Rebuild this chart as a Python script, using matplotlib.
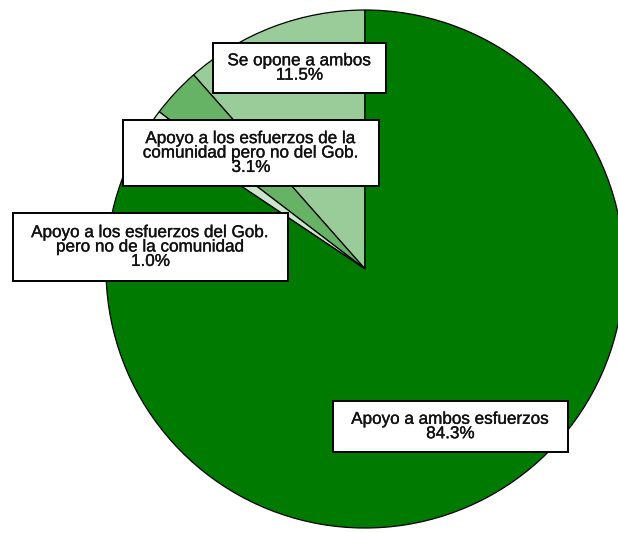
import matplotlib.pyplot as plt
import matplotlib.patheffects as pe
from matplotlib.patches import Rectangle

plt.rcParams['font.family'] = ['Liberation Sans', 'DejaVu Sans']

labels = ['Se opone a ambos',
          'Apoyo a los esfuerzos de la\ncomunidad pero no del Gob.',
          'Apoyo a los esfuerzos del Gob.\npero no de la comunidad',
          'Apoyo a ambos esfuerzos']
pct = [11.5, 3.1, 1.0, 84.3]
colors = ['#99cc99', '#66b366', '#cce6cc', '#007a00']

# label boxes in pixel coords: x0, y0 (top), x1, y1 (bottom)
boxes = [(213, 43, 386, 93),
         (123, 120, 379, 186),
         (13, 213, 288, 281),
         (333, 401, 568, 452)]

W, H = 618, 533
fig = plt.figure(figsize=(W/100, H/100), dpi=100)
ax = fig.add_axes([0, 0, 1, 1])

ax.pie(pct, colors=colors, startangle=90, counterclock=True,
       center=(365, H-269), radius=259, frame=True,
       wedgeprops=dict(edgecolor='black', linewidth=0.9))
ax.set_xlim(0, W)
ax.set_ylim(0, H)
ax.axis('off')

for lab, p, (x0, y0, x1, y1) in zip(labels, pct, boxes):
    ax.add_patch(Rectangle((x0, H-y1), x1-x0, y1-y0, facecolor='white',
                           edgecolor='black', linewidth=1.4, zorder=5))
    ax.text((x0+x1)/2, H-(y0+y1)/2, f'{lab}\n{p:.1f}%', ha='center', va='center',
            fontsize=12.3, linespacing=0.95, color='#111111', zorder=6,
            path_effects=[pe.withStroke(linewidth=0.25, foreground='#111111')])

fig.savefig('out.png', dpi=100)
